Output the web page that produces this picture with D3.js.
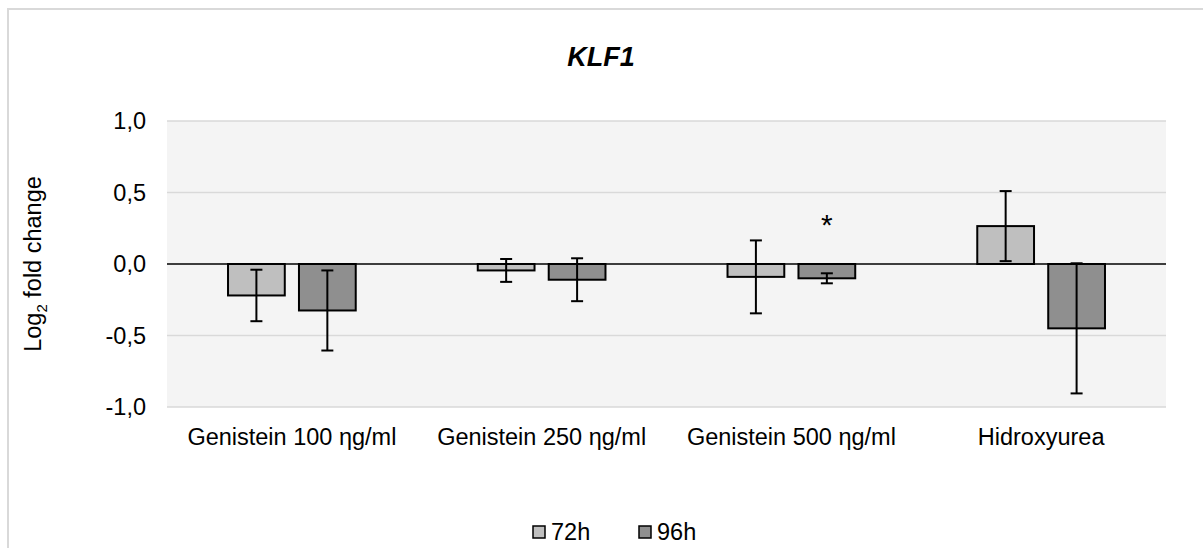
<!DOCTYPE html>
<html>
<head>
<meta charset="utf-8">
<script src="https://cdn.jsdelivr.net/npm/d3@7"></script>
<style>
  body { margin: 0; background: #fff; }
  svg { display: block; font-family: Arial, "Liberation Sans", sans-serif; }
</style>
</head>
<body>
<div id="chart"></div>
<script>
const groups = ['Genistein 100 ηg/ml', 'Genistein 250 ηg/ml', 'Genistein 500 ηg/ml', 'Hidroxyurea']
const series = ['72h', '96h']
const values72 = [-0.22, -0.045, -0.09, 0.265]
const values96 = [-0.325, -0.11, -0.10, -0.45]
const errors72 = [0.18, 0.08, 0.255, 0.245]
const errors96 = [0.28, 0.15, 0.035, 0.455]
const signif96 = ['', '', '*', '']
const yTicks = [-1, -0.5, 0, 0.5, 1]

const W = 1203
const H = 548
const MARGIN = { left: 167, right: W - 1166, top: 121, bottom: H - 407 }
const COLORS = { '72h': '#bfbfbf', '96h': '#8f8f8f' }
const FONT = 23.5

const rows = groups.map((g, i) => ({
  group: g,
  bars: [
    { key: '72h', value: values72[i], err: errors72[i], sig: '' },
    { key: '96h', value: values96[i], err: errors96[i], sig: signif96[i] }
  ]
}))

const svg = d3.select('#chart').append('svg')
  .attr('width', W)
  .attr('height', H)

// outer chart frame
svg.append('rect')
  .attr('x', 8).attr('y', 9)
  .attr('width', W + 50).attr('height', H + 50)
  .attr('fill', '#fff')
  .attr('stroke', '#d9d9d9')
  .attr('stroke-width', 2)

const x0 = d3.scaleBand()
  .domain(groups)
  .range([MARGIN.left, W - MARGIN.right])

const x1 = d3.scaleBand()
  .domain(series)
  .range([0, x0.bandwidth()])
  .paddingInner(0.2)
  .paddingOuter(0.86)

const y = d3.scaleLinear()
  .domain([-1, 1])
  .range([H - MARGIN.bottom, MARGIN.top])

// plot background
svg.append('rect')
  .attr('x', MARGIN.left).attr('y', MARGIN.top)
  .attr('width', W - MARGIN.left - MARGIN.right)
  .attr('height', y(-1) - y(1))
  .attr('fill', '#f4f4f4')

// gridlines
svg.append('g')
  .selectAll('line')
  .data(yTicks.filter(d => d !== 0))
  .join('line')
  .attr('x1', MARGIN.left).attr('x2', W - MARGIN.right)
  .attr('y1', d => y(d)).attr('y2', d => y(d))
  .attr('stroke', '#d9d9d9')
  .attr('stroke-width', 1.5)

// Title
svg.append('text')
  .attr('x', 601).attr('y', 66)
  .attr('text-anchor', 'middle')
  .attr('font-size', 27)
  .attr('font-weight', 'bold')
  .attr('font-style', 'italic')
  .text('KLF1')

// Y axis
const yAxis = svg.append('g')
  .attr('transform', `translate(${MARGIN.left},0)`)
  .call(d3.axisLeft(y).tickValues(yTicks).tickSize(0).tickPadding(21)
    .tickFormat(d => d.toFixed(1).replace('.', ',')))
yAxis.select('.domain').remove()
yAxis.selectAll('text').attr('font-size', FONT).attr('fill', '#000').attr('font-family', null)

// X axis labels
const xAxis = svg.append('g')
  .attr('transform', `translate(0,${y(-1)})`)
  .call(d3.axisBottom(x0).tickSize(0).tickPadding(21))
xAxis.select('.domain').remove()
xAxis.selectAll('text').attr('font-size', FONT).attr('fill', '#000').attr('font-family', null)

// Y axis title
const yTitle = svg.append('text')
  .attr('transform', `translate(41,${(y(1) + y(-1)) / 2}) rotate(-90)`)
  .attr('text-anchor', 'middle')
  .attr('font-size', FONT)
yTitle.append('tspan').text('Log')
yTitle.append('tspan').attr('font-size', 15).attr('dy', 6).text('2')
yTitle.append('tspan').attr('dy', -6).text(' fold change')

// Bars
const groupG = svg.append('g')
  .selectAll('g')
  .data(rows)
  .join('g')
  .attr('transform', d => `translate(${x0(d.group)},0)`)

groupG.selectAll('rect')
  .data(d => d.bars)
  .join('rect')
  .attr('x', d => x1(d.key))
  .attr('width', x1.bandwidth())
  .attr('y', d => y(Math.max(0, d.value)))
  .attr('height', d => Math.abs(y(d.value) - y(0)))
  .attr('fill', d => COLORS[d.key])
  .attr('stroke', '#000')
  .attr('stroke-width', 2)

// zero line
svg.append('line')
  .attr('x1', MARGIN.left).attr('x2', W - MARGIN.right)
  .attr('y1', y(0)).attr('y2', y(0))
  .attr('stroke', '#000')
  .attr('stroke-width', 1.5)

// Error bars
const errG = groupG.selectAll('g.err')
  .data(d => d.bars)
  .join('g')
  .attr('class', 'err')
  .attr('transform', d => `translate(${x1(d.key) + x1.bandwidth() / 2},0)`)
  .attr('stroke', '#000')
  .attr('stroke-width', 2)

errG.append('line')
  .attr('y1', d => y(d.value + d.err))
  .attr('y2', d => y(d.value - d.err))
errG.append('line')
  .attr('x1', -6).attr('x2', 6)
  .attr('y1', d => y(d.value + d.err)).attr('y2', d => y(d.value + d.err))
errG.append('line')
  .attr('x1', -6).attr('x2', 6)
  .attr('y1', d => y(d.value - d.err)).attr('y2', d => y(d.value - d.err))

// significance marks
groupG.selectAll('text.sig')
  .data(d => d.bars.filter(b => b.sig))
  .join('text')
  .attr('class', 'sig')
  .attr('x', d => x1(d.key) + x1.bandwidth() / 2)
  .attr('y', y(0.2))
  .attr('text-anchor', 'middle')
  .attr('font-size', 30)
  .text(d => d.sig)

// Legend
const legend = svg.append('g')
  .selectAll('g')
  .data(series)
  .join('g')
  .attr('transform', (d, i) => `translate(${533 + i * 106},532)`)
legend.append('rect')
  .attr('x', 0).attr('y', -6)
  .attr('width', 12).attr('height', 12)
  .attr('fill', d => COLORS[d])
  .attr('stroke', '#000')
  .attr('stroke-width', 1.5)
legend.append('text')
  .attr('x', 18).attr('y', 8)
  .attr('font-size', FONT)
  .text(d => d)
</script>
</body>
</html>
